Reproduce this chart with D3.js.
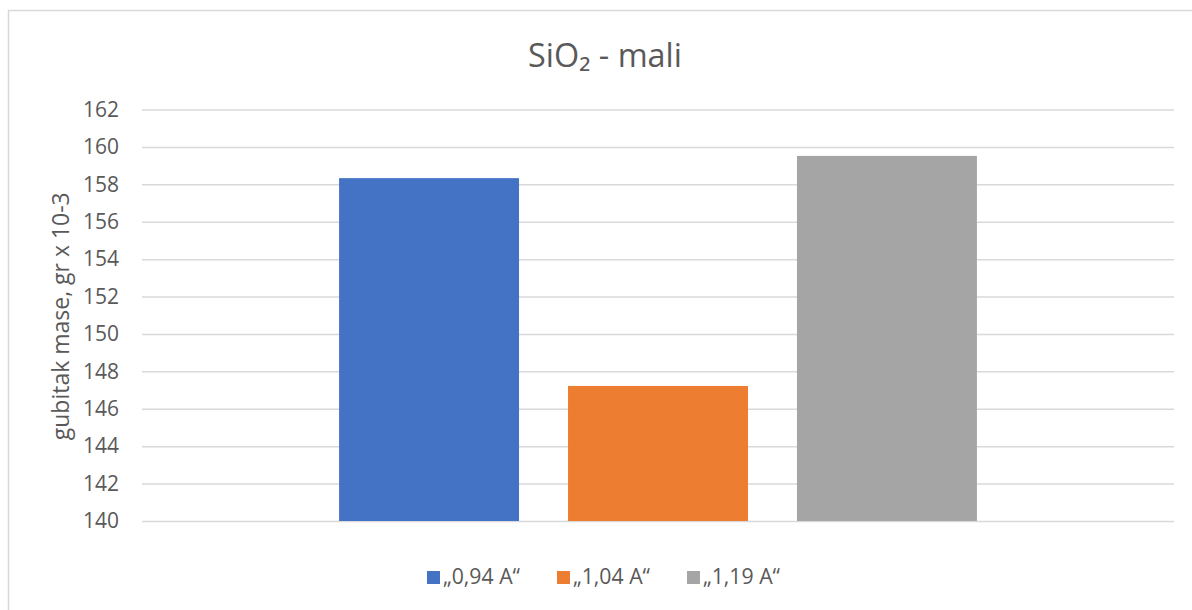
<!DOCTYPE html>
<html>
<head>
<meta charset="utf-8">
<script src="https://cdn.jsdelivr.net/npm/d3@7"></script>
<style>
  html, body { margin: 0; padding: 0; background: #fff; }
  svg { display: block; font-family: "Open Sans", "Noto Sans", sans-serif; }
</style>
</head>
<body>
<svg id="chart" width="1192" height="610"></svg>
<script>
// Mass loss per current setting
const categories = [""];
const series = ["„0,94 A“", "„1,04 A“", "„1,19 A“"];
const values = [158.33, 147.22, 159.52];
const colors = ["#4472C4", "#ED7D31", "#A5A5A5"];
const yTicks = [140, 142, 144, 146, 148, 150, 152, 154, 156, 158, 160, 162];

const svg = d3.select("#chart");
const W = 1192, H = 610;
const plot = { left: 142, right: 1174, top: 109.5, bottom: 521 };
const textColor = "#595959";
const FONT = "'Open Sans', 'Noto Sans', sans-serif";

// scale a text node's font so that its rendered width equals `width`
function fitWidth(sel, width) {
  sel.each(function () {
    const base = parseFloat(this.getAttribute("font-size"));
    const len = this.getComputedTextLength();
    if (len > 0) this.setAttribute("font-size", (base * width / len).toFixed(2));
  });
}

// chart frame (open on right and bottom edges of the page)
svg.append("rect")
  .attr("x", 8.5).attr("y", 10.5)
  .attr("width", W + 20).attr("height", H + 20)
  .attr("fill", "#fff").attr("stroke", "#D9D9D9").attr("stroke-width", 1.5);

const y = d3.scaleLinear().domain([140, 162]).range([plot.bottom, plot.top]);

const x0 = d3.scaleBand().domain(categories)
  .range([plot.left, plot.right]).paddingInner(0).paddingOuter(0.309);
const x1 = d3.scaleBand().domain(series)
  .range([0, x0.bandwidth()]).paddingInner(0.214).paddingOuter(0);

// gridlines and tick labels
const yAxis = d3.axisLeft(y).tickValues(yTicks)
  .tickSize(-(plot.right - plot.left)).tickPadding(23).tickFormat(d3.format("d"));
const gAxis = svg.append("g").attr("transform", `translate(${plot.left},0)`).call(yAxis);
gAxis.select(".domain").remove();
gAxis.selectAll(".tick line").attr("stroke", "#D9D9D9").attr("stroke-width", 1.5);
const tickText = gAxis.selectAll(".tick text")
  .attr("fill", textColor).attr("font-size", 18).attr("font-family", FONT);
fitWidth(tickText, 36);
const tickFs = gAxis.select(".tick text").attr("font-size");
tickText.attr("font-size", tickFs);

// bars
const group = svg.append("g");
categories.forEach(cat => {
  group.selectAll("rect.bar")
    .data(series.map((s, i) => ({ s, v: values[i], c: colors[i] })))
    .join("rect")
    .attr("class", "bar")
    .attr("x", d => x0(cat) + x1(d.s))
    .attr("width", x1.bandwidth())
    .attr("y", d => y(d.v))
    .attr("height", d => y(140) - y(d.v))
    .attr("fill", d => d.c);
});

// title
const title = svg.append("text")
  .attr("x", 605).attr("y", 67)
  .attr("text-anchor", "middle")
  .attr("fill", textColor).attr("font-size", 28).attr("font-family", FONT);
title.append("tspan").text("SiO");
title.append("tspan").text("₂");
title.append("tspan").text(" - mali");
fitWidth(title, 154);

// y axis title
const yTitle = svg.append("text")
  .attr("transform", `translate(69,${(plot.top + plot.bottom) / 2 + 1}) rotate(-90)`)
  .attr("text-anchor", "middle")
  .attr("fill", textColor).attr("font-size", 18).attr("font-family", FONT)
  .text("gubitak mase, gr x 10-3");
fitWidth(yTitle, 248);

// legend
const legendX = [427, 557, 687];
const legend = svg.append("g");
series.forEach((s, i) => {
  legend.append("rect")
    .attr("x", legendX[i]).attr("y", 571)
    .attr("width", 13).attr("height", 13)
    .attr("fill", colors[i]);
  const t = legend.append("text")
    .attr("x", legendX[i] + 16).attr("y", 584)
    .attr("fill", textColor).attr("font-size", 17).attr("font-family", FONT)
    .text(s);
  if (i === 0) fitWidth(t, 77);
  else t.attr("font-size", legend.select("text").attr("font-size"));
});
</script>
</body>
</html>
